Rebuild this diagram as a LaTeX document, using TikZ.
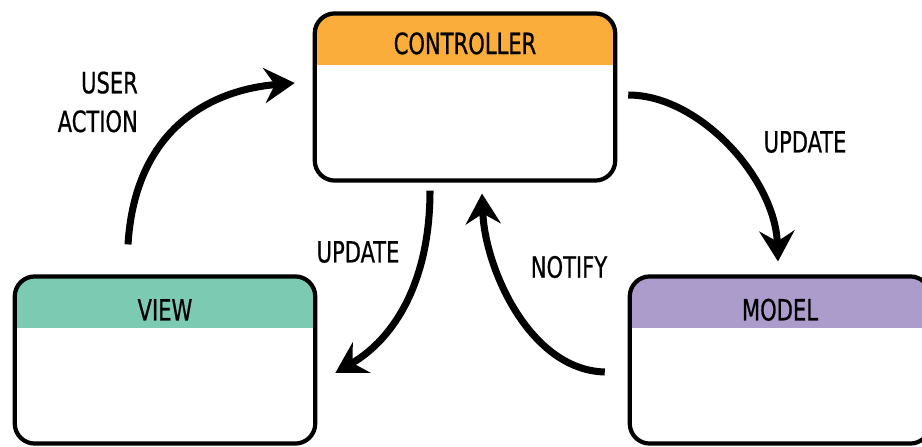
\documentclass[tikz,border=0pt]{standalone}
\usepackage{fontspec}
\setmainfont[FakeStretch=0.8, FakeBold=0.6]{DejaVu Sans Condensed}
\usetikzlibrary{arrows.meta}
\definecolor{ctrlorange}{RGB}{251,173,60}
\definecolor{viewteal}{RGB}{125,202,179}
\definecolor{modelpurple}{RGB}{172,156,204}
\begin{document}
\begin{tikzpicture}[x=0.03cm, y=-0.03cm,
        box/.style={rounded corners=0.6cm, minimum width=9cm, minimum height=5cm, fill=white},
        head/.style={path picture={\fill[#1, sharp corners] (path picture bounding box.north west) rectangle ([yshift=-1.55cm]path picture bounding box.north east);}},
        title/.style={font=\fontsize{25}{28}\selectfont},
        lbl/.style={font=\fontsize{25}{33}\selectfont},
        flow/.style={line width=6pt, -{Stealth[length=26pt, width=30pt, inset=9pt]}}]
        \useasboundingbox (0,0) rectangle (922,446);
        \clip (0,0) rectangle (922,446);

        \node[box, head=ctrlorange] (ctrl) at (465,97) {};
        \node[box, head=viewteal] (view) at (165,360) {};
        \node[box, head=modelpurple] (model) at (780,360) {};
        % border over the header fill
        \foreach \b in {ctrl,view,model}
            \draw[line width=3.6pt, rounded corners=0.6cm] (\b.north west) rectangle (\b.south east);

        \node[title] (ctrltitle) at ([yshift=-0.9cm]ctrl.north) {CONTROLLER};
        \node[title] (viewtitle) at ([yshift=-1cm]view.north) {VIEW};
        \node[title] (modeltitle) at ([yshift=-1cm]model.north) {MODEL};

        \path[draw,flow] ([shift={(-37,-32)}]view.north) .. controls +(7,-115) and +(-85,7) .. ([shift={(-20,-14)}]ctrl.west);
        \path[draw,flow] ([shift={(13,-2)}]ctrl.east) .. controls +(72,0) and +(-3,-82) .. ([shift={(-2,-15)}]model.north);
        \path[draw,flow] ([shift={(-35,10)}]ctrl.south) .. controls +(0,90) and +(60,-35) .. ([shift={(20,13)}]view.east);
        \path[draw,flow] ([shift={(-25,12)}]model.west) .. controls +(-75,-2) and +(3,75) .. ([shift={(17,13)}]ctrl.south);

        \node[lbl, align=right, anchor=east] (useraction) at (142,102) {USER\\ACTION};
        \node[lbl] (updateright) at (805,142) {UPDATE};
        \node[lbl] (updateleft) at (358,252) {UPDATE};
        \node[lbl] (notify) at (569,267) {NOTIFY};
    \end{tikzpicture}
\end{document}
